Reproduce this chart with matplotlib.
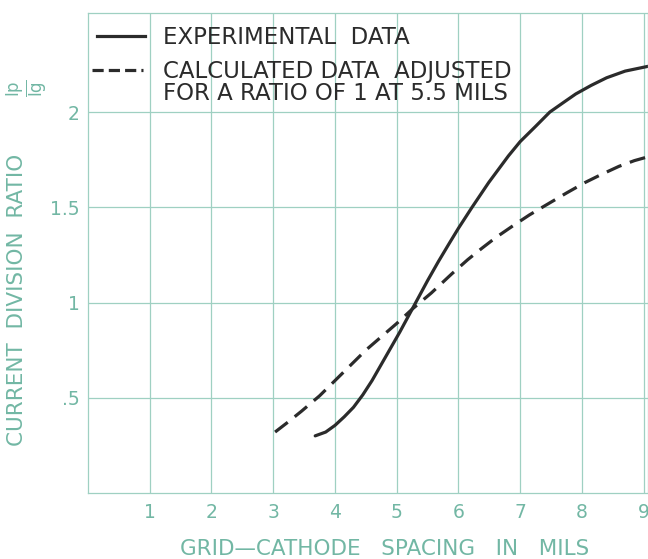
import matplotlib.pyplot as plt
from matplotlib.lines import Line2D

# valores
exp_x = [3.68, 3.85, 4.0, 4.15, 4.3, 4.45, 4.6, 4.75, 4.9, 5.05, 5.2, 5.35, 5.5,
         5.675, 5.85, 6.0, 6.22, 6.49, 6.81, 7.0, 7.25, 7.48, 7.7, 7.9, 8.15,
         8.4, 8.7, 9.07]
exp_y = [0.30, 0.32, 0.355, 0.40, 0.45, 0.515, 0.59, 0.675, 0.76, 0.845, 0.935,
         1.025, 1.115, 1.215, 1.31, 1.39, 1.50, 1.63, 1.77, 1.845, 1.925, 2.0,
         2.05, 2.095, 2.14, 2.18, 2.215, 2.24]

calc_x = [3.03, 3.25, 3.46, 3.75, 4.0, 4.25, 4.5, 4.75, 5.0, 5.25, 5.56, 5.89,
          6.15, 6.38, 6.6, 6.87, 7.15, 7.41, 7.75, 8.05, 8.3, 8.6, 8.85, 9.07]
calc_y = [0.32, 0.375, 0.43, 0.51, 0.59, 0.67, 0.75, 0.82, 0.89, 0.965, 1.05,
          1.15, 1.225, 1.285, 1.34, 1.40, 1.46, 1.51, 1.575, 1.63, 1.67, 1.715,
          1.745, 1.765]

x_ticks = [1, 2, 3, 4, 5, 6, 7, 8, 9]
y_ticks = [0.5, 1, 1.5, 2]
y_labels = [".5", "1", "1.5", "2"]

teal = "#72b7a4"
grid_col = "#9fd0c2"
ink = "#2b2b2b"

fig = plt.figure(figsize=(6.48, 5.59), dpi=100)
ax = fig.add_axes([88 / 648, 1 - 493 / 559, 560 / 648, 480 / 559])

ax.plot(exp_x, exp_y, color=ink, lw=2.3, solid_capstyle="round",
        solid_joinstyle="round")
ax.plot(calc_x, calc_y, color=ink, lw=2.3, dashes=(5, 2.8), dash_capstyle="butt")

ax.set_xlim(0, 9.07)
ax.set_ylim(0, 2.52)
ax.set_xticks(x_ticks)
ax.set_xticklabels([str(v) for v in x_ticks])
ax.set_yticks(y_ticks)
ax.set_yticklabels(y_labels)
ax.tick_params(length=0, labelsize=13.5, labelcolor=teal)
ax.tick_params(axis="x", pad=7)
ax.tick_params(axis="y", pad=6)
ax.grid(True, color=grid_col, lw=0.9)
ax.set_axisbelow(True)
for s in ax.spines.values():
    s.set_color(grid_col)
    s.set_linewidth(0.9)

# legenda em duas partes para alinhar as linhas de amostra
h1 = Line2D([], [], color=ink, lw=2.3)
h2 = Line2D([], [], color=ink, lw=2.3, dashes=(3.5, 1.6))
h3 = Line2D([], [], color="none")
leg1 = ax.legend([h1], ["EXPERIMENTAL  DATA"], loc="upper left",
                 bbox_to_anchor=(0.016, 0.973), frameon=False, fontsize=16.5,
                 borderpad=0, borderaxespad=0, handlelength=2.1,
                 handletextpad=0.79, labelcolor=ink)
ax.add_artist(leg1)
ax.legend([h2, h3], ["CALCULATED DATA  ADJUSTED", "FOR A RATIO OF 1 AT 5.5 MILS"],
          loc="upper left", bbox_to_anchor=(0.007, 0.902), frameon=False,
          fontsize=16.5, borderpad=0, borderaxespad=0, handlelength=2.23,
          handletextpad=0.87, labelspacing=-0.06, labelcolor=ink)

fig.text(385 / 648, 1 - 549 / 559, "GRID\u2014CATHODE   SPACING   IN   MILS",
         color=teal, fontsize=15.5, ha="center", va="center")
fig.text(17 / 648, 1 - 300 / 559, "CURRENT  DIVISION  RATIO", color=teal,
         fontsize=15.5, rotation=90, ha="center", va="center")
fig.text(27 / 648, 1 - 88 / 559, r"$\frac{\mathrm{Ip}}{\mathrm{Ig}}$", color=teal,
         fontsize=17, rotation=90, ha="center", va="center")

fig.savefig("out.png", dpi=100)
